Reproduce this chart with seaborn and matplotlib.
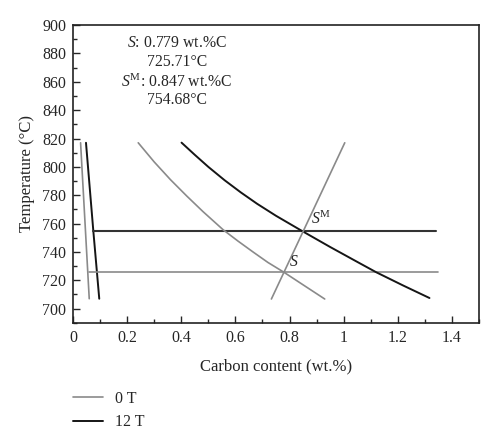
import matplotlib
matplotlib.use('Agg')
import matplotlib.pyplot as plt
from matplotlib.ticker import MultipleLocator
import seaborn as sns
import numpy as np

sns.set_style('ticks')
plt.rcParams['font.family'] = ['Liberation Serif', 'DejaVu Serif']
plt.rcParams['mathtext.fontset'] = 'custom'
plt.rcParams['mathtext.rm'] = 'Liberation Serif'
plt.rcParams['mathtext.it'] = 'Liberation Serif:italic'

GRAY = '#8a8a8a'
BLACK = '#151515'

# ferrite boundary (near-vertical lines)
fer0_x = [0.028, 0.060]
fer0_y = [817, 707]
fer12_x = [0.048, 0.075, 0.097]
fer12_y = [817, 755, 707]

# eutectoid horizontals
eut0_x = [0.058, 1.35]
eut0_y = [725.71, 725.71]
eut12_x = [0.075, 1.34]
eut12_y = [754.68, 754.68]

# Acm lines
acm0_x = [0.241, 0.30, 0.36, 0.42, 0.48, 0.555, 0.61, 0.665, 0.72, 0.779, 0.85, 0.930]
acm0_y = [817, 803.5, 791, 779.5, 768.5, 755.6, 747.6, 740.0, 732.6, 725.7, 716.8, 706.8]
acm12_x = [0.401, 0.45, 0.50, 0.56, 0.62, 0.68, 0.75, 0.847, 0.95, 1.05, 1.12, 1.22, 1.317]
acm12_y = [817.1, 808.5, 800.0, 790.6, 782.0, 774.0, 765.5, 754.7, 743.5, 733.0, 725.7, 716.3, 707.5]

# line through S and S^M
ss_x = [0.733, 1.004]
ss_y = [706.8, 817]

fig, ax = plt.subplots(figsize=(5.0, 4.41), dpi=100)
fig.subplots_adjust(left=0.146, right=0.958, top=0.943, bottom=0.268)

lw = 1.2
sns.lineplot(x=fer0_x, y=fer0_y, sort=False, color=GRAY, lw=lw, ax=ax, label='0 T')
sns.lineplot(x=fer12_x, y=fer12_y, sort=False, color=BLACK, lw=lw + 0.2, ax=ax, label='12 T')
sns.lineplot(x=eut0_x, y=eut0_y, sort=False, color=GRAY, lw=lw, ax=ax)
sns.lineplot(x=eut12_x, y=eut12_y, sort=False, color='#333333', lw=lw + 0.3, ax=ax)
sns.lineplot(x=acm0_x, y=acm0_y, sort=False, color=GRAY, lw=lw, ax=ax)
sns.lineplot(x=acm12_x, y=acm12_y, sort=False, color=BLACK, lw=lw + 0.2, ax=ax)
sns.lineplot(x=ss_x, y=ss_y, sort=False, color=GRAY, lw=lw, ax=ax)

handles, labels = ax.get_legend_handles_labels()
ax.get_legend().remove()

ax.set_xlim(0, 1.5)
ax.set_ylim(690, 900)
ax.xaxis.set_minor_locator(MultipleLocator(0.1))
ax.yaxis.set_major_locator(MultipleLocator(20))
ax.yaxis.set_minor_locator(MultipleLocator(10))
ax.set_xticks(np.arange(0, 1.41, 0.2))
ax.set_xticklabels(['0', '0.2', '0.4', '0.6', '0.8', '1', '1.2', '1.4'])
ax.tick_params(which='major', direction='in', length=5, width=1, labelsize=11.5,
               top=False, right=False, pad=5)
ax.tick_params(which='minor', direction='in', length=3, width=1, top=False, right=False)
for s in ax.spines.values():
    s.set_linewidth(1.2)
    s.set_color('#222222')

ax.set_xlabel('Carbon content (wt.%)', fontsize=12, labelpad=9)
ax.set_ylabel('Temperature (°C)', fontsize=12, labelpad=5)

ax.text(0.384, 887.3, r'$S$: 0.779 wt.%C', ha='center', va='center', fontsize=11.3)
ax.text(0.384, 873.9, '725.71°C', ha='center', va='center', fontsize=11.3)
ax.text(0.384, 859.9, r'$S^{\rm M}$: 0.847 wt.%C', ha='center', va='center', fontsize=11.3)
ax.text(0.384, 847.2, '754.68°C', ha='center', va='center', fontsize=11.3)

ax.text(0.798, 727.5, r'$S$', fontsize=11.3, ha='left', va='bottom')
ax.text(0.878, 757, r'$S^{\rm M}$', fontsize=11.3, ha='left', va='bottom')

fig.legend(handles, labels, loc='upper left', bbox_to_anchor=(0.146, 1 - 391 / 441),
           frameon=False, fontsize=11.5, handlelength=1.9, handletextpad=0.7,
           borderpad=0, borderaxespad=0, labelspacing=0.45)

fig.savefig('out.png', dpi=100, facecolor='white')
